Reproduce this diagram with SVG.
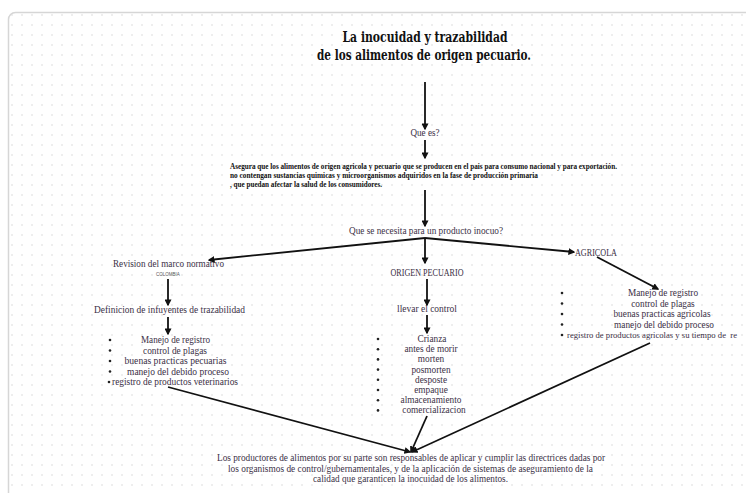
<svg xmlns="http://www.w3.org/2000/svg" width="746" height="493" viewBox="0 0 746 493">
<style>
.t{font-family:"Liberation Serif","DejaVu Serif",serif;font-size:9.3px;fill:#3b3046}
.c{text-anchor:middle}
.title{font-family:"DejaVu Serif","Liberation Serif",serif;font-weight:bold;font-size:14px;fill:#111;text-anchor:middle}
.desc{font-family:"Liberation Serif","DejaVu Serif",serif;font-weight:bold;font-size:7.5px;fill:#111}
.tiny{font-family:"Liberation Sans",sans-serif;font-size:4.5px;fill:#555;text-anchor:middle}
.bul{fill:#222}
.ar{stroke:#111;stroke-width:1.8;fill:none;marker-end:url(#ah)}
</style>
<defs>
<pattern id="dots" x="0" y="0" width="10" height="10" patternUnits="userSpaceOnUse">
<circle cx="2" cy="5" r="0.8" fill="#d9d9d9"/>
</pattern>
<marker id="ah" viewBox="0 0 10 10" refX="8" refY="5" markerWidth="7" markerHeight="7" markerUnits="userSpaceOnUse" orient="auto">
<path d="M0,0 L10,5 L0,10 z" fill="#111"/>
</marker>
</defs>
<rect x="0" y="0" width="746" height="493" fill="#fff"/>
<rect x="8.5" y="12.5" width="760" height="500" rx="7" fill="url(#dots)" stroke="#d6d6d6" stroke-width="1.5"/>

<g id="title">
<text class="title" x="425" y="42" textLength="165" lengthAdjust="spacingAndGlyphs">La inocuidad y trazabilidad</text>
<text class="title" x="424" y="60" textLength="214" lengthAdjust="spacingAndGlyphs">de los alimentos de origen pecuario.</text>
</g>

<g id="que-es">
<text class="t c" x="425" y="136" textLength="29" lengthAdjust="spacingAndGlyphs">Que es?</text>
</g>

<g id="definicion">
<text class="desc" x="230" y="169" textLength="387" lengthAdjust="spacingAndGlyphs">Asegura que los alimentos de origen agricola y pecuario  que se producen en el pais para consumo nacional y para exportación.</text>
<text class="desc" x="230" y="178" textLength="308" lengthAdjust="spacingAndGlyphs">no contengan sustancias quimicas y microorganismos adquiridos en la fase de producción primaria</text>
<text class="desc" x="230" y="187" textLength="152" lengthAdjust="spacingAndGlyphs">, que puedan afectar la salud de los consumidores.</text>
</g>

<g id="pregunta">
<text class="t c" x="426" y="234" textLength="154" lengthAdjust="spacingAndGlyphs">Que se necesita para un producto inocuo?</text>
</g>

<g id="revision">
<text class="t c" x="168.5" y="267" textLength="111" lengthAdjust="spacingAndGlyphs">Revision del marco normativo</text>
<text class="tiny" x="168" y="276">COLOMBIA</text>
</g>

<g id="origen">
<text class="t c" x="427" y="276" textLength="73" lengthAdjust="spacingAndGlyphs">ORIGEN PECUARIO</text>
</g>

<g id="agricola">
<text class="t" x="575" y="256" textLength="42" lengthAdjust="spacingAndGlyphs">AGRICOLA</text>
</g>

<g id="influyentes">
<text class="t c" x="169.5" y="313" textLength="151" lengthAdjust="spacingAndGlyphs">Definicion de infuyentes de trazabilidad</text>
</g>

<g id="llevar">
<text class="t c" x="427" y="312" textLength="60" lengthAdjust="spacingAndGlyphs">llevar el control</text>
</g>

<g id="lista-pecuaria">
<circle class="bul" cx="110" cy="340" r="1.3"/>
<circle class="bul" cx="110" cy="350.5" r="1.3"/>
<circle class="bul" cx="110" cy="361" r="1.3"/>
<circle class="bul" cx="110" cy="371.5" r="1.3"/>
<circle class="bul" cx="109" cy="382" r="1.3"/>
<text class="t c" x="175.5" y="343" textLength="69" lengthAdjust="spacingAndGlyphs">Manejo de registro</text>
<text class="t c" x="175" y="353.5" textLength="64" lengthAdjust="spacingAndGlyphs">control de plagas</text>
<text class="t c" x="175.5" y="364" textLength="102" lengthAdjust="spacingAndGlyphs">buenas practicas pecuarias</text>
<text class="t c" x="178" y="374.5" textLength="102" lengthAdjust="spacingAndGlyphs">manejo del debido proceso</text>
<text class="t c" x="175" y="385" textLength="126" lengthAdjust="spacingAndGlyphs">registro de productos veterinarios</text>
</g>

<g id="lista-control">
<circle class="bul" cx="378" cy="339" r="1.3"/>
<circle class="bul" cx="378" cy="349.2" r="1.3"/>
<circle class="bul" cx="378" cy="359.4" r="1.3"/>
<circle class="bul" cx="378" cy="369.6" r="1.3"/>
<circle class="bul" cx="378" cy="379.8" r="1.3"/>
<circle class="bul" cx="378" cy="390" r="1.3"/>
<circle class="bul" cx="378" cy="400.2" r="1.3"/>
<circle class="bul" cx="378" cy="410.4" r="1.3"/>
<text class="t c" x="432" y="342">Crianza</text>
<text class="t c" x="431" y="352.2">antes de morir</text>
<text class="t c" x="431" y="362.4">morten</text>
<text class="t c" x="431" y="372.6">posmorten</text>
<text class="t c" x="431" y="382.8">desposte</text>
<text class="t c" x="431" y="393">empaque</text>
<text class="t c" x="431" y="403.2">almacenamiento</text>
<text class="t c" x="434" y="413.4">comercializacion</text>
</g>

<g id="lista-agricola">
<circle class="bul" cx="562" cy="293" r="1.3"/>
<circle class="bul" cx="562" cy="303.5" r="1.3"/>
<circle class="bul" cx="562" cy="314" r="1.3"/>
<circle class="bul" cx="562" cy="324.5" r="1.3"/>
<circle class="bul" cx="562" cy="335" r="1.3"/>
<text class="t c" x="663" y="296">Manejo de registro</text>
<text class="t c" x="663" y="306.5">control de plagas</text>
<text class="t c" x="662" y="317">buenas practicas agricolas</text>
<text class="t c" x="664" y="327.5">manejo del debido proceso</text>
<text class="t" x="567" y="338" style="white-space:pre;font-size:8.4px" textLength="170" lengthAdjust="spacingAndGlyphs">registro de productos agricolas y su tiempo de  re</text>
</g>

<g id="conclusion">
<text class="t c" x="411" y="461" textLength="388" lengthAdjust="spacingAndGlyphs">Los productores de alimentos por su parte son responsables de aplicar y cumplir las directrices dadas por</text>
<text class="t c" x="410.5" y="471.5" textLength="365" lengthAdjust="spacingAndGlyphs">los organismos de control/gubernamentales, y de la aplicación de sistemas de aseguramiento de la</text>
<text class="t c" x="410.5" y="482" textLength="195" lengthAdjust="spacingAndGlyphs">calidad que garanticen la inocuidad de los alimentos.</text>
</g>

<g id="connectors">
<path class="ar" d="M425,82 L425,129"/>
<path class="ar" d="M425,140 L425,158"/>
<path class="ar" d="M425,190 L425,226"/>
<path class="ar" d="M425,238 L209,260"/>
<path class="ar" d="M425,238 L425,263"/>
<path class="ar" d="M425,238 L574,252"/>
<path class="ar" d="M168,279 L168,305"/>
<path class="ar" d="M427,279 L427,305"/>
<path class="ar" d="M597,257 L658,289"/>
<path class="ar" d="M168,317 L168,334"/>
<path class="ar" d="M427,315 L427,333"/>
<path class="ar" d="M168,387 L410,452"/>
<path class="ar" d="M427,416 L411,452"/>
<path class="ar" d="M650,343 L412,452"/>
</g>
</svg>
